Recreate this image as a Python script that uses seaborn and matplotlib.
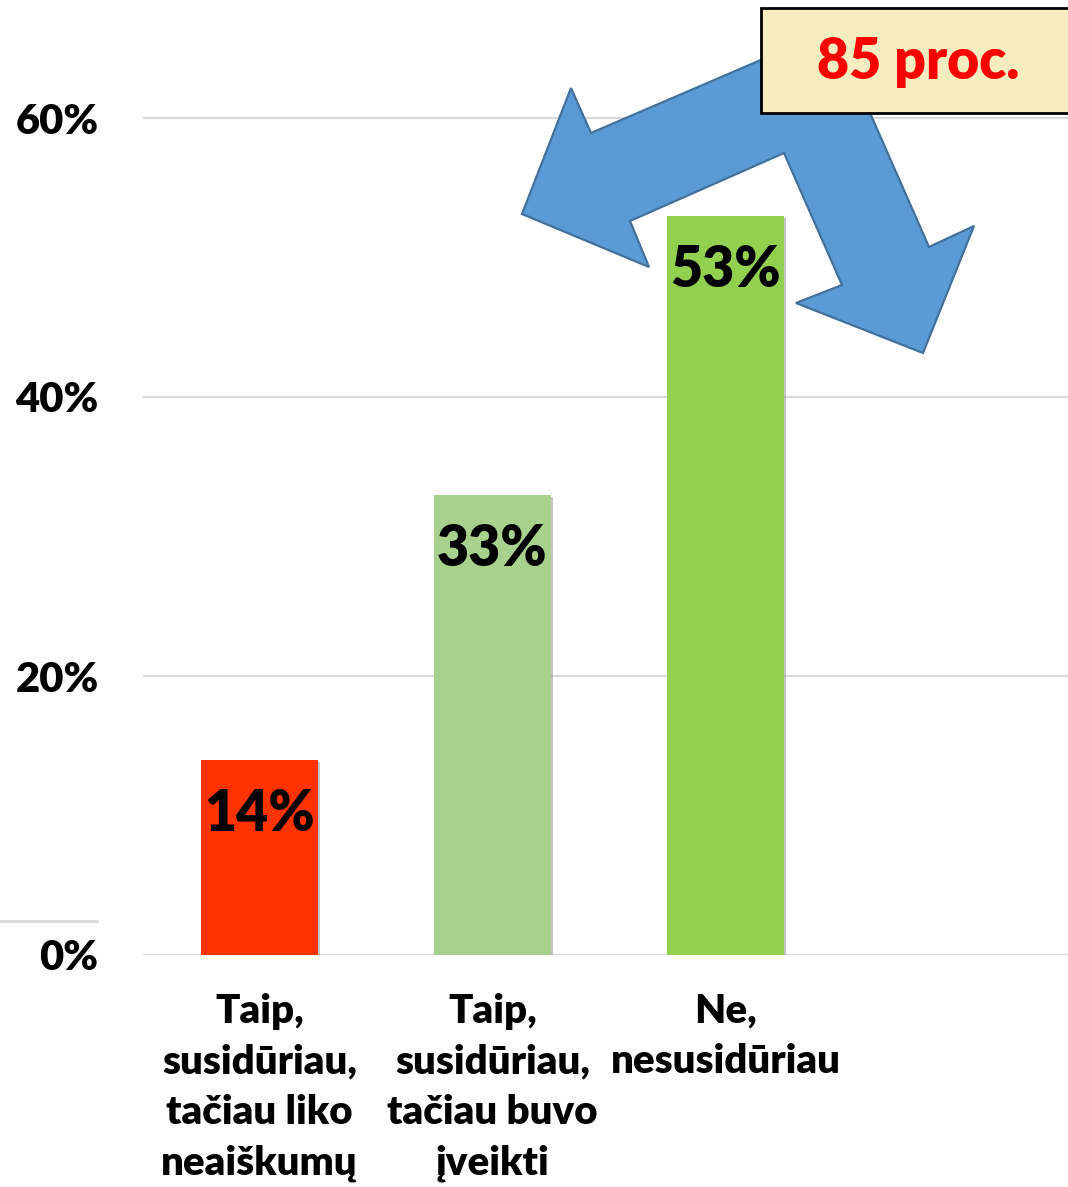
import matplotlib
matplotlib.use("Agg")
import matplotlib.pyplot as plt
import matplotlib.patheffects as pe
from matplotlib.patches import Polygon, Rectangle
from matplotlib.lines import Line2D
import seaborn as sns
import pandas as pd

# Survey answers and their shares (%)
categories = [
    "Taip,\nsusidūriau,\ntačiau liko\nneaiškumų",
    "Taip,\nsusidūriau,\ntačiau buvo\nįveikti",
    "Ne,\nnesusidūriau",
]
values = [14, 33, 53]
bar_colors = ["#FF3300", "#A9D18E", "#92D050"]
y_ticks = [0, 20, 40, 60]
y_tick_labels = ["0%", "20%", "40%", "60%"]
callout_text = "85 proc."

sns.set_theme(style="white")
plt.rcParams["font.family"] = ["Lato", "DejaVu Sans"]

W, H = 1068, 1187
fig = plt.figure(figsize=(W / 100, H / 100), dpi=100)


def fx(px):
    return px / W


def fy(py):
    return 1 - py / H


ax = fig.add_axes([fx(143), fy(955), fx(1075) - fx(143), 955 / H])

df = pd.DataFrame({"cat": categories, "val": values})
sns.barplot(data=df, x="cat", y="val", hue="cat", palette=bar_colors,
            width=0.5, saturation=1, legend=False, ax=ax, zorder=3)

for bar in ax.patches:
    bar.set_linewidth(0)
    bar.set_path_effects([
        pe.SimplePatchShadow(offset=(1.5, -1.5), shadow_rgbFace="#808080", alpha=0.45),
        pe.Normal(),
    ])

ax.set_xlim(-0.5, 3.5)
ax.set_ylim(0, 60 * 955 / (955 - 118))
ax.set_yticks(y_ticks)
ax.set_yticklabels(y_tick_labels)
ax.set_xlabel("")
ax.set_ylabel("")
for s in ax.spines.values():
    s.set_visible(False)
ax.yaxis.grid(True, color="#D9D9D9", linewidth=1.6)
ax.xaxis.grid(False)
ax.set_axisbelow(True)

ax.tick_params(axis="y", length=0, pad=32, labelsize=30)
ax.tick_params(axis="x", length=0, pad=27, labelsize=29)
for lbl in ax.get_yticklabels():
    lbl.set_fontweight("heavy")
    lbl.set_color("black")
for lbl in ax.get_xticklabels():
    lbl.set_fontweight("heavy")
    lbl.set_color("black")
    lbl.set_multialignment("center")
    lbl.set_linespacing(1.46)

# Value labels inside the top of each bar
for i, v in enumerate(values):
    ax.annotate(f"{v}%", xy=(i, v), xytext=(0, -39), textcoords="offset points",
                ha="center", va="center", fontsize=40, fontweight="heavy",
                color="black", zorder=5)

# Stray grid segment at the left margin
fig.add_artist(Line2D([fx(0), fx(97)], [fy(921), fy(921)], color="#D9D9D9",
                      linewidth=2.2, transform=fig.transFigure))

# Bent double-headed callout arrow
arrow_px = [
    (522, 214), (571, 88), (591, 133), (833, 29), (929, 247), (974, 226),
    (923, 353), (796, 303), (842, 285), (784, 153), (630, 221), (649, 267),
]
arrow = Polygon([(fx(x), fy(y)) for x, y in arrow_px], closed=True,
                facecolor="#5B9BD5", edgecolor="#41719C", linewidth=1.6,
                transform=fig.transFigure, zorder=6)
fig.add_artist(arrow)

# Callout box
box = Rectangle((fx(761), fy(113)), fx(1072) - fx(761), fy(8) - fy(113),
                facecolor="#F8EDC1", edgecolor="black", linewidth=2,
                transform=fig.transFigure, zorder=7)
fig.add_artist(box)
fig.text(fx(918), fy(62), callout_text, ha="center", va="center",
         fontsize=40, fontweight="heavy", color="#FF0000", zorder=8)

fig.savefig("out.png", dpi=100)
